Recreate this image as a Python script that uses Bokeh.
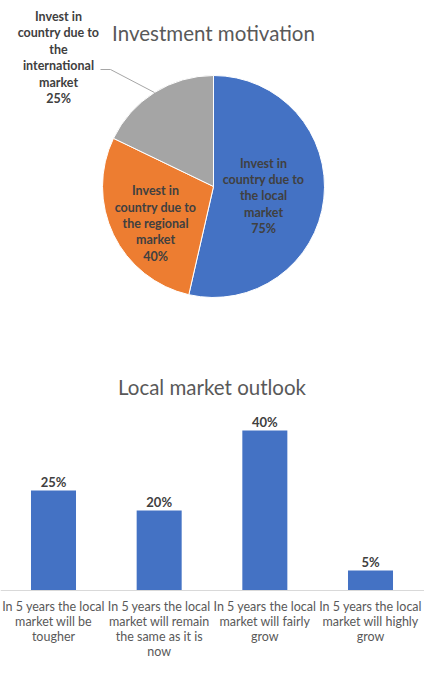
import math
from bokeh.plotting import figure
from bokeh.layouts import column
from bokeh.models import Range1d, Span, ColumnDataSource
from bokeh.core.properties import value
from bokeh.embed import file_html
from bokeh.resources import INLINE

# ---- data ----
pie_title = "Investment motivation"
pie_labels = [
    "Invest in\ncountry due to\nthe local\nmarket",
    "Invest in\ncountry due to\nthe regional\nmarket",
    "Invest in\ncountry due to\nthe\ninternational\nmarket",
]
pie_values = [75, 40, 25]
pie_colors = ["#4472C4", "#ED7D31", "#A5A5A5"]

bar_title = "Local market outlook"
bar_categories = [
    "In 5 years the local\nmarket will be\ntougher",
    "In 5 years the local\nmarket will remain\nthe same as it is\nnow",
    "In 5 years the local\nmarket will fairly\ngrow",
    "In 5 years the local\nmarket will highly\ngrow",
]
bar_values = [25, 20, 40, 5]

FONT = "Lato"
DARK = "#404040"
GREY = "#595959"

# ---- pie ----
total = sum(pie_values)
starts, ends, mids = [], [], []
cum = 0.0
for v in pie_values:
    a0 = math.pi / 2 - 2 * math.pi * cum / total
    cum += v
    a1 = math.pi / 2 - 2 * math.pi * cum / total
    starts.append(a0)
    ends.append(a1)
    mids.append((a0 + a1) / 2)

R = 111
p1 = figure(width=424, height=330, x_range=Range1d(-213, 211), y_range=Range1d(-144, 186),
            x_axis_type=None, y_axis_type=None, output_backend="svg", toolbar_location=None,
            min_border=0)
p1.grid.visible = False
p1.outline_line_color = None

src = ColumnDataSource(dict(start=starts, end=ends, color=pie_colors,
                            text=[f"{l}\n{v}%" for l, v in zip(pie_labels, pie_values)],
                            lx=[50, -58, -155], ly=[-9.5, -37, 129]))
p1.wedge(x=0, y=0, radius=R, start_angle="start", end_angle="end", direction="clock",
         fill_color="color", line_color="white", line_width=1, source=src)

# leader line for the outside label
mx, my = R * math.cos(mids[2]), R * math.sin(mids[2])
p1.line(x=[-113, -103, mx], y=[117, 117, my], line_color="#A6A6A6", line_width=1)

p1.text(x="lx", y="ly", text="text", source=src, text_align="center", text_baseline="middle",
        text_font=value(FONT), text_font_style="bold", text_font_size="12.5px",
        text_color=DARK, text_line_height=1.09)

p1.text(x=[0], y=[154], text=[pie_title], text_align="center", text_baseline="alphabetic",
        text_font=value(FONT), text_font_size="20.5px", text_color=GREY)

# ---- bars ----
idx = list(range(len(bar_categories)))
p2 = figure(width=424, height=331, x_range=Range1d(-0.5016, 3.511), y_range=Range1d(-17.75, 65),
            x_axis_type=None, y_axis_type=None, output_backend="svg", toolbar_location=None,
            min_border=0)
p2.grid.visible = False
p2.outline_line_color = None

p2.add_layout(Span(location=0, dimension="width", line_color="#D9D9D9", line_width=1))
p2.vbar(x=idx, top=bar_values, width=0.426, fill_color="#4472C4", line_color=None)

p2.text(x=idx, y=bar_values, text=[f"{v}%" for v in bar_values], text_align="center",
        text_baseline="alphabetic", y_offset=-9, text_font=value(FONT), text_font_style="bold",
        text_font_size="13px", text_color=DARK)

p2.text(x=idx, y=[0] * len(idx), text=bar_categories, text_align="center", text_baseline="top",
        y_offset=8, text_font=value(FONT), text_font_size="12.5px", text_color=GREY,
        text_line_height=1.0)

p2.text(x=[(idx[0] + idx[-1]) / 2], y=[51], text=[bar_title], text_align="center",
        text_baseline="alphabetic", text_font=value(FONT), text_font_size="20.5px", text_color=GREY)

layout = column(p1, p2, spacing=0)
open("out.html", "w").write(file_html(layout, INLINE))
